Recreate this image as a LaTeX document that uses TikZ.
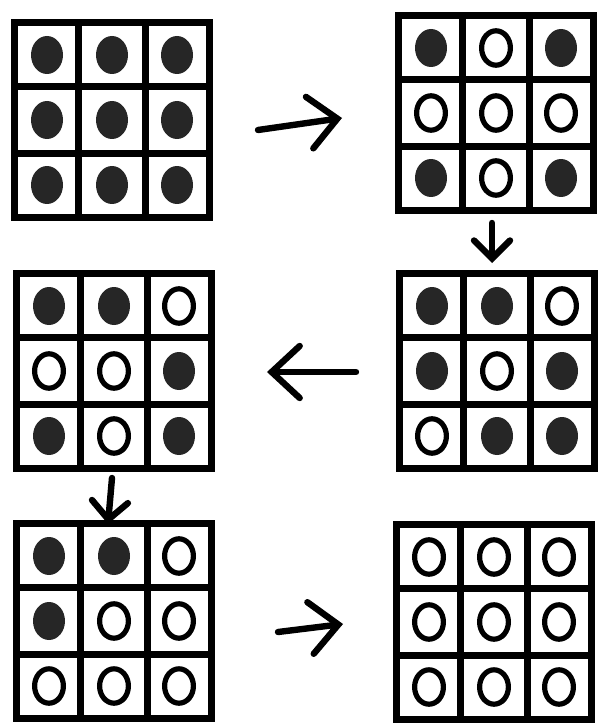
\documentclass[tikz,border=0pt]{standalone}
\usetikzlibrary{calc,arrows.meta}

\tikzset{
  board/.style={draw, line width=0.35cm, minimum size=9.75cm, inner sep=0pt},
  rule/.style={line width=0.32cm},
  blk/.style={fill=black!85},
  wht/.style={draw, line width=0.26cm},
  arr/.style={line width=0.32cm, line cap=round,
    -{Straight Barb[length=1.4cm,width=2.6cm,line cap=round]}},
  short arr/.style={line width=0.32cm, line cap=round,
    -{Straight Barb[length=0.9cm,width=1.8cm,line cap=round]}}
}

% 1 = filled stone, 0 = open stone, read row by row
\newcommand\stones[2]{%
  \foreach \s [count=\k from 0] in {#2}{%
    \pgfmathtruncatemacro\col{mod(\k,3)-1}%
    \pgfmathtruncatemacro\row{div(\k,3)-1}%
    \ifnum\s=1
      \fill[blk] ($(#1)+(\col*65,\row*65)$) ellipse (0.8cm and 0.95cm);
    \else
      \draw[wht] ($(#1)+(\col*65,\row*65)$) ellipse (0.72cm and 0.86cm);
    \fi}}

\begin{document}
\begin{tikzpicture}[x=0.05cm,y=-0.05cm]
\useasboundingbox (0,0) rectangle (605,725);
\node[board] (g1) at (112,120) {};
\node[board] (g2) at (496,113) {};
\node[board] (g3) at (497,371) {};
\node[board] (g4) at (114,371) {};
\node[board] (g5) at (114,621) {};
\node[board] (g6) at (494,622) {};
\foreach \g in {g1,g2,g3,g4,g5,g6}{
  \foreach \t in {1,2}{
    \draw[rule] ($(\g.north west)!\t/3!(\g.north east)$) -- ($(\g.south west)!\t/3!(\g.south east)$);
    \draw[rule] ($(\g.north west)!\t/3!(\g.south west)$) -- ($(\g.north east)!\t/3!(\g.south east)$);
  }
}
\stones{g1}{1,1,1,1,1,1,1,1,1}
\stones{g2}{1,0,1,0,0,0,1,0,1}
\stones{g3}{1,1,0,1,0,1,0,1,1}
\stones{g4}{1,1,0,0,0,1,1,0,1}
\stones{g5}{1,1,0,1,0,0,0,0,0}
\stones{g6}{0,0,0,0,0,0,0,0,0}
% moves
\draw[arr] ($(g1.east)+(45,10)$) -- ($(g2.west)+(-53,5)$);
\draw[short arr] ($(g2.south)+(-4,9)$) -- ($(g3.north)+(-5,-7)$);
\draw[arr] ($(g3.west)+(-40,1)$) -- ($(g4.east)+(52,1)$);
\draw[short arr] ($(g4.south)+(-2,6)$) -- ($(g5.north)+(-6,4)$);
\draw[arr] ($(g5.east)+(63,11)$) -- ($(g6.west)+(-50,2)$);
\end{tikzpicture}
\end{document}
